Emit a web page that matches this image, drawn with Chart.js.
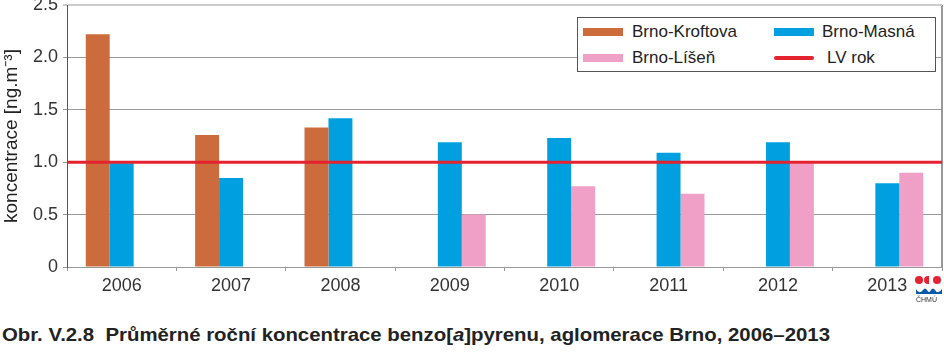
<!DOCTYPE html>
<html>
<head>
<meta charset="utf-8">
<script src="https://cdn.jsdelivr.net/npm/chart.js@4.4.1/dist/chart.umd.min.js"></script>
<style>
  html,body{margin:0;padding:0;background:#fff;}
  body{width:944px;height:357px;position:relative;overflow:hidden;font-family:"Liberation Sans",Arial,sans-serif;}
  #wrap{position:absolute;left:0;top:0;width:944px;height:300px;}
  #legend{position:absolute;left:577px;top:17px;width:359px;height:55px;border:1px solid #555;background:#fff;box-sizing:border-box;}
  .item{position:absolute;font-size:17px;color:#222;line-height:20px;white-space:nowrap;}
  .sw{position:absolute;width:40px;}
  #caption{position:absolute;left:2px;top:324px;font-weight:bold;font-size:19px;line-height:22px;color:#222;white-space:nowrap;transform-origin:0 0;}
  #logo{position:absolute;left:913px;top:272px;width:30px;height:34px;}
  .dot{position:absolute;background:#e52330;border-radius:50%;}
  #logotxt{position:absolute;left:3px;top:24px;font-size:7px;color:#333;}
</style>
</head>
<body>
<div id="wrap"><canvas id="c" width="944" height="300"></canvas></div>
<div id="legend">
  <div class="sw" style="left:5px;top:10px;height:8px;background:#cc6c3c"></div>
  <div class="item" style="left:54px;top:4px">Brno-Kroftova</div>
  <div class="sw" style="left:196px;top:10px;height:8px;background:#00a0e0"></div>
  <div class="item" style="left:244px;top:4px">Brno-Masná</div>
  <div class="sw" style="left:5px;top:36px;height:8px;background:#f0a0c6"></div>
  <div class="item" style="left:54px;top:30px">Brno-Líšeň</div>
  <div class="sw" style="left:196px;top:38px;height:4px;border-radius:2px;background:#e52330"></div>
  <div class="item" style="left:249px;top:30px">LV rok</div>
</div>
<div id="logo">
  <div class="dot" style="left:2px;top:4px;width:8px;height:8px"></div>
  <div class="dot" style="left:11px;top:4px;width:5px;height:8px;border-radius:8px 0 0 8px"></div>
  <div class="dot" style="left:20px;top:4px;width:8px;height:8px"></div>
  <svg style="position:absolute;left:3px;top:14px" width="26" height="10" viewBox="0 0 26 10">
    <path d="M0 3 Q3 9 7 4 Q9 1 11 4 Q13 8 15 4 Q17 1 19 4 Q22 9 26 3 L26 8 L0 8 Z" fill="#0a5aa8"/>
  </svg>
  <div id="logotxt">ČHMÚ</div>
</div>
<div id="caption">Obr. V.2.8&nbsp; Průměrné roční koncentrace benzo[<i>a</i>]pyrenu, aglomerace Brno, 2006–2013</div>
<script>
const years = ['2006','2007','2008','2009','2010','2011','2012','2013'];
const kroftova = [2.22, 1.26, 1.33, null, null, null, null, null];
const masna    = [0.99, 0.85, 1.42, 1.19, 1.23, 1.09, 1.19, 0.80];
const lisen    = [null, null, null, 0.50, 0.77, 0.70, 0.99, 0.90];
const LV = 1.0;
const yTicks = [0, 0.5, 1.0, 1.5, 2.0, 2.5];

// fit caption width to reference
const cap = document.getElementById('caption');
cap.style.transform = 'scaleX(' + (828 / cap.getBoundingClientRect().width) + ')';

// annual limit value line, placed through the y scale
const lvLine = {
  id:'lvLine',
  afterDatasetsDraw(chart){
    const {ctx, chartArea:a, scales:{y}} = chart;
    const py = y.getPixelForValue(LV);
    ctx.save();
    ctx.strokeStyle = '#e52330';
    ctx.lineWidth = 3;
    ctx.beginPath();
    ctx.moveTo(a.left, py);
    ctx.lineTo(a.right, py);
    ctx.stroke();
    ctx.restore();
  }
};

const tickFont = {family:'"Liberation Sans", Arial, sans-serif', size:18};
new Chart(document.getElementById('c'), {
  type:'bar',
  data:{
    labels: years,
    datasets:[
      {label:'Brno-Kroftova', data:kroftova, backgroundColor:'#cc6c3c', borderWidth:0},
      {label:'Brno-Masná', data:masna, backgroundColor:'#00a0e0', borderWidth:0},
      {label:'Brno-Líšeň', data:lisen, backgroundColor:'#f0a0c6', borderWidth:0}
    ]
  },
  plugins:[lvLine],
  options:{
    responsive:false, animation:false,
    layout:{padding:{left:0,right:2,top:5,bottom:0}},
    plugins:{legend:{display:false}, tooltip:{enabled:false}},
    datasets:{bar:{barPercentage:1, categoryPercentage:0.657}},
    scales:{
      x:{
        offset:true,
        grid:{offset:true, drawOnChartArea:false, tickLength:4, color:'#999'},
        border:{color:'#999', width:1},
        ticks:{font:tickFont, color:'#333', padding:4, maxRotation:0},
        afterFit:s=>{s.height=33; s.paddingLeft=0; s.paddingRight=0;}
      },
      xr:{
        type:'linear', position:'top', min:0, max:1, offset:false,
        afterBuildTicks:s=>{s.ticks=[{value:0},{value:1}];},
        ticks:{display:false},
        grid:{offset:false, drawTicks:false, lineWidth:2,
              color:c=> c.tick && c.tick.value===1 ? '#999' : 'rgba(0,0,0,0)'},
        border:{display:false},
        afterFit:s=>{s.height=0; s.paddingLeft=0; s.paddingRight=0;}
      },
      y:{
        min:0, max:2.5,
        afterBuildTicks:s=>{s.ticks = yTicks.map(v=>({value:v}));},
        ticks:{font:tickFont, color:'#333', padding:5,
          callback:v=> v===0 ? '0' : v.toFixed(1)},
        grid:{color:c=> c.tick && c.tick.value===2.5 ? '#ccc' : '#999',
              lineWidth:c=> c.tick && c.tick.value===2.5 ? 2 : 1, tickLength:4},
        border:{color:'#555', width:1},
        title:{display:true, text:'koncentrace [ng.m⁻³]', font:{family:'"Liberation Sans", Arial, sans-serif', size:19}, color:'#222', padding:{top:0,bottom:0}},
        afterFit:s=>{s.width=67; s.paddingTop=0; s.paddingBottom=0;}
      }
    }
  }
});
</script>
</body>
</html>
